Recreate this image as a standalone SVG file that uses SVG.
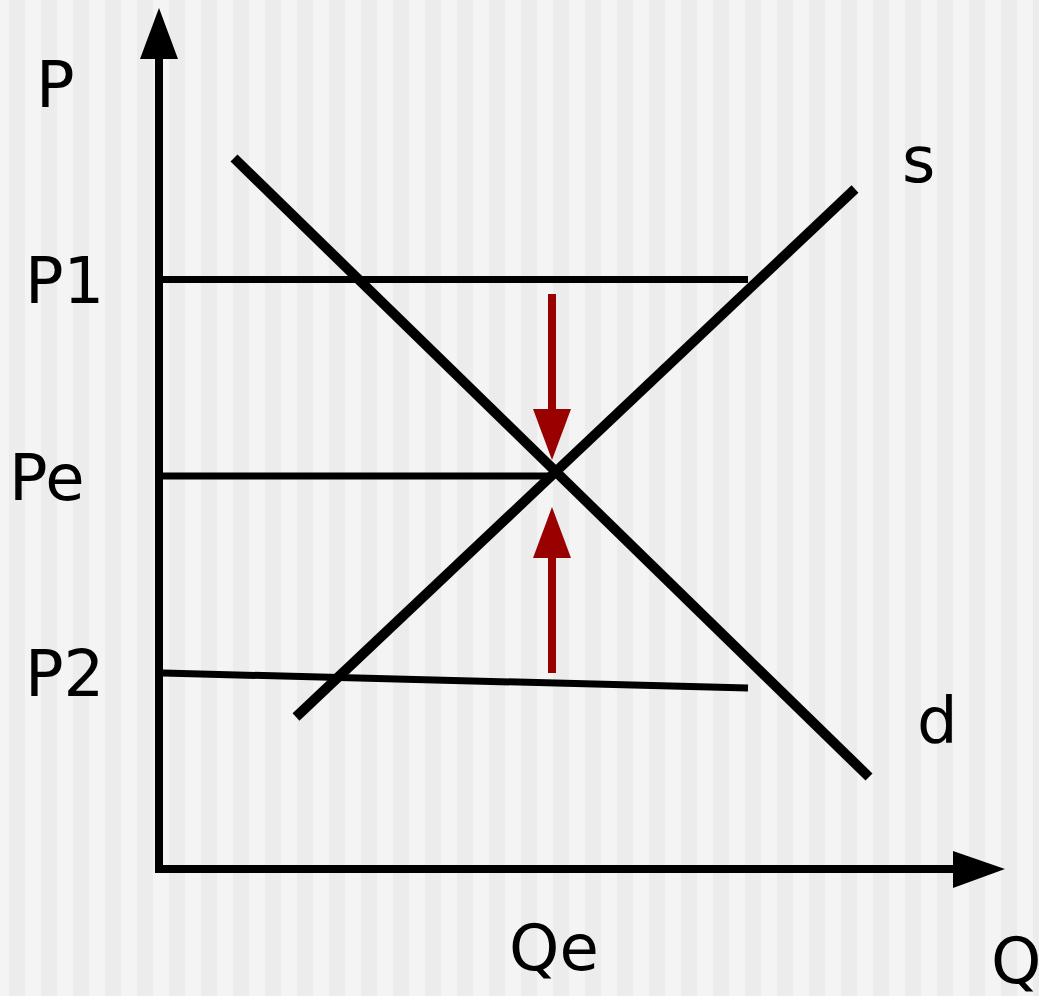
<svg xmlns="http://www.w3.org/2000/svg" width="1039" height="996" viewBox="0 0 1039 996">
<defs>
<pattern id="stripes" x="9" y="0" width="32" height="996" patternUnits="userSpaceOnUse">
<rect x="0" y="0" width="16" height="996" fill="#ececec"/>
</pattern>
<style>
.lbl{font-family:"DejaVu Sans","Verdana",sans-serif;font-size:64px;fill:#000}
.axis{stroke:#000;stroke-width:8;fill:none}
.hl{stroke:#000;stroke-width:7;fill:none}
.curve{stroke:#000;stroke-width:10;fill:none}
.red{stroke:#990000;stroke-width:8;fill:none}
</style>
</defs>
<rect x="0" y="0" width="1039" height="996" fill="#f4f4f4"/>
<rect x="0" y="0" width="1039" height="996" fill="url(#stripes)"/>
<g id="connectors">
<g id="y-axis">
<line class="axis" x1="159" y1="869" x2="159" y2="55"/>
<polygon points="140,59 178,59 159,8" fill="#000"/>
</g>
<g id="x-axis">
<line class="axis" x1="155" y1="869" x2="957" y2="869"/>
<polygon points="953,851 953,888 1005,869" fill="#000"/>
</g>
<line id="p1-line" class="hl" x1="163" y1="279.5" x2="748" y2="279.5"/>
<line id="pe-line" class="hl" x1="163" y1="476" x2="553" y2="476"/>
<line id="p2-line" class="hl" x1="163" y1="673" x2="748" y2="688"/>
<line id="demand" class="curve" x1="234" y1="158" x2="869" y2="777"/>
<line id="supply" class="curve" x1="296" y1="717" x2="855" y2="189"/>
<g id="arrow-down">
<line class="red" x1="552" y1="294" x2="552" y2="412"/>
<polygon points="533,409 571,409 552,460" fill="#990000"/>
</g>
<g id="arrow-up">
<line class="red" x1="552" y1="673" x2="552" y2="555"/>
<polygon points="533,558 571,558 552,507" fill="#990000"/>
</g>
</g>
<g id="label-P"><text class="lbl" x="36" y="107">P</text></g>
<g id="label-P1"><text class="lbl" x="25" y="303">P1</text></g>
<g id="label-Pe"><text class="lbl" x="9" y="500">Pe</text></g>
<g id="label-P2"><text class="lbl" x="25" y="696">P2</text></g>
<g id="label-Qe"><text class="lbl" x="509" y="970">Qe</text></g>
<g id="label-Q"><text class="lbl" x="991" y="983">Q</text></g>
<g id="label-s"><text class="lbl" x="902" y="182">s</text></g>
<g id="label-d"><text class="lbl" x="917" y="743">d</text></g>
</svg>
